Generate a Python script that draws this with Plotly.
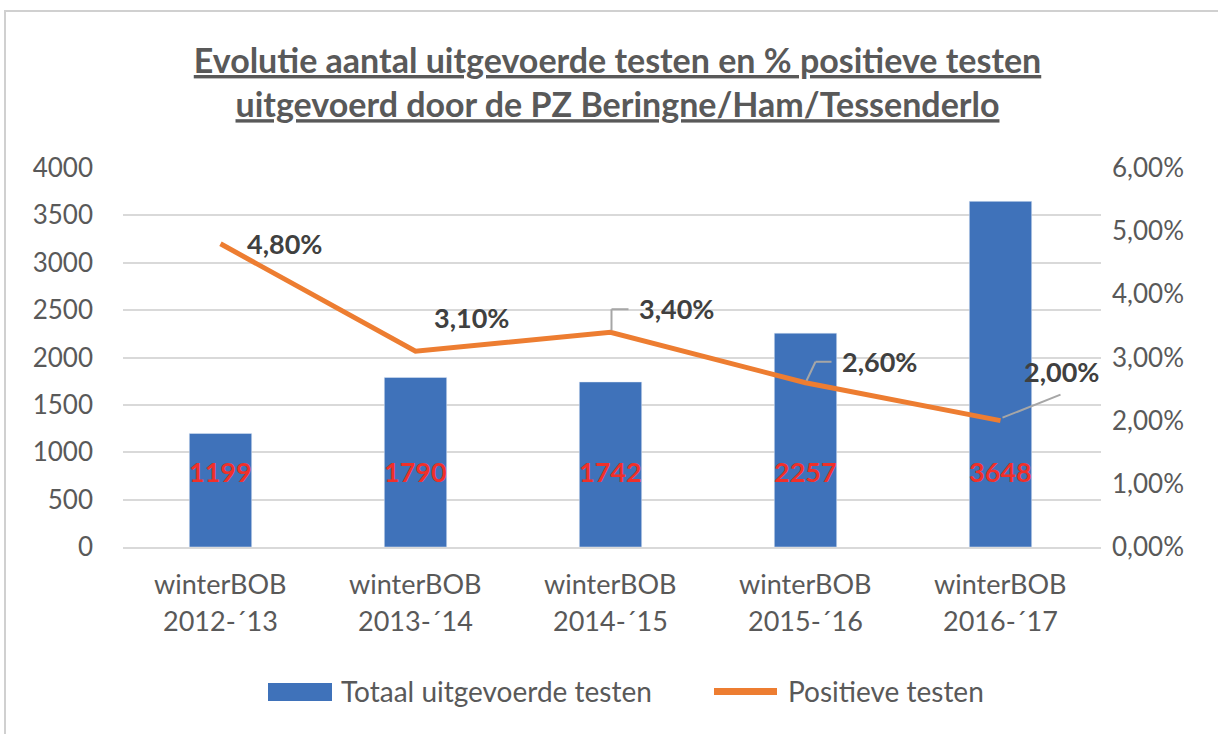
import plotly.graph_objects as go

seasons = ["2012-´13", "2013-´14", "2014-´15", "2015-´16", "2016-´17"]
prefix = "winterBOB"
categories = [f"{prefix} {s}" for s in seasons]
totaal = [1199, 1790, 1742, 2257, 3648]
positief_pct = [4.80, 3.10, 3.40, 2.60, 2.00]
series_names = ["Totaal uitgevoerde testen", "Positieve testen"]

FONT = "Lato"
GRAY = "#595959"
BLUE = "#3F72BA"
ORANGE = "#ED7D31"

W, H = 1218, 734
L, R, T, B = 123, 117, 168, 187
PW, PH = W - L - R, H - T - B


def px(xp):
    return (xp - L) / PW


def py(yp):
    return (H - B - yp) / PH


fig = go.Figure()
fig.add_trace(go.Bar(
    x=categories, y=totaal, name=series_names[0],
    marker=dict(color=BLUE), width=0.32, yaxis="y", showlegend=False,
))
fig.add_trace(go.Scatter(
    x=categories, y=positief_pct, name=series_names[1], yaxis="y2",
    mode="lines", line=dict(color=ORANGE, width=5), showlegend=False,
))

ann = []
# red value labels inside bars
for c, v in zip(categories, totaal):
    ann.append(dict(x=c, y=800, xref="x", yref="y", text=f"<b>{v}</b>", showarrow=False,
                    yanchor="middle", font=dict(family=FONT, size=27, color="#F0302A")))
# percentage labels
offsets = [(64, 0), (56, 34), (66, 24), (74, 21), (61, 49)]
for c, p, (dx, dy) in zip(categories, positief_pct, offsets):
    ann.append(dict(x=c, y=p, xref="x", yref="y2", text="<b>" + f"{p:.2f}".replace(".", ",") + "%</b>",
                    showarrow=False, xshift=dx, yshift=dy, yanchor="middle",
                    font=dict(family=FONT, size=27, color="#404040")))
# x category labels (two lines)
for c, s in zip(categories, seasons):
    ann.append(dict(x=c, y=py(583), xref="x", yref="paper", text=prefix, showarrow=False,
                    yanchor="middle", font=dict(family=FONT, size=27, color=GRAY)))
    ann.append(dict(x=c, y=py(620), xref="x", yref="paper", text=s, showarrow=False,
                    yanchor="middle", font=dict(family=FONT, size=27, color=GRAY)))

shapes = []
# leader lines (pixel offsets relative to data points)
leaders = {2: [(1, 2, 1, 23), (1, 23, 18, 23)],
           3: [(1, 2, 10, 21), (10, 21, 26, 21)],
           4: [(2, 3, 60, 26)]}
for i, segs in leaders.items():
    for (x0, y0, x1, y1) in segs:
        shapes.append(dict(type="line", xref="x", yref="y2", xsizemode="pixel", ysizemode="pixel",
                           xanchor=i, yanchor=positief_pct[i], x0=x0, y0=y0, x1=x1, y1=y1,
                           line=dict(color="#A6A6A6", width=2)))
# chart border
shapes.append(dict(type="path", xref="paper", yref="paper",
                   path=f"M {px(5)},{py(760)} L {px(5)},{py(11)} L {px(1240)},{py(11)}",
                   line=dict(color="#D0D0D0", width=2)))

# legend (drawn)
shapes.append(dict(type="rect", xref="paper", yref="paper", x0=px(268), x1=px(332),
                   y0=py(701), y1=py(683), fillcolor=BLUE, line=dict(width=0)))
shapes.append(dict(type="line", xref="paper", yref="paper", x0=px(714), x1=px(777),
                   y0=py(691.5), y1=py(691.5), line=dict(color=ORANGE, width=7)))
ann.append(dict(x=px(339), y=py(691), xref="paper", yref="paper", text=series_names[0],
                showarrow=False, xanchor="left", yanchor="middle",
                font=dict(family=FONT, size=28, color=GRAY)))
ann.append(dict(x=px(786), y=py(691), xref="paper", yref="paper", text=series_names[1],
                showarrow=False, xanchor="left", yanchor="middle",
                font=dict(family=FONT, size=28, color=GRAY)))

fig.update_layout(
    width=W, height=H,
    margin=dict(l=L, r=R, t=T, b=B, autoexpand=False),
    paper_bgcolor="white", plot_bgcolor="white",
    separators=",.",
    font=dict(family=FONT, color=GRAY),
    title=dict(text="<b><u>Evolutie aantal uitgevoerde testen en % positieve testen</u><br><u>uitgevoerd door de PZ Beringne/Ham/Tessenderlo</u></b>",
               x=617.5 / W, xanchor="center", y=1 - 73 / H, yanchor="middle",
               font=dict(family=FONT, size=34, color=GRAY)),
    xaxis=dict(showticklabels=False, showline=True, linecolor="#D9D9D9", linewidth=1.5,
               ticks="", showgrid=False),
    yaxis=dict(range=[0, 4000], dtick=500, showgrid=True, gridcolor="#D9D9D9", gridwidth=1.5,
               zeroline=False, ticks="", tickfont=dict(family=FONT, size=26, color=GRAY),
               ticklabelstandoff=29),
    yaxis2=dict(range=[0, 6], dtick=1, overlaying="y", side="right", showgrid=False,
                zeroline=False, ticks="", tickformat=".2f", ticksuffix="%",
                tickfont=dict(family=FONT, size=26, color=GRAY), ticklabelstandoff=10),
    annotations=ann, shapes=shapes, showlegend=False,
)

fig.write_html("out.html", config={"displayModeBar": False},
               post_script="document.body.style.margin='0';")
